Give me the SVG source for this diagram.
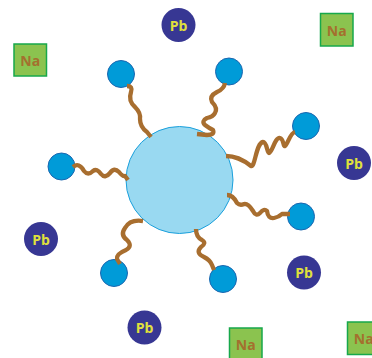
<svg xmlns="http://www.w3.org/2000/svg" width="372" height="358" viewBox="0 0 372 358">
<style>
.na rect{fill:#8bc34f;stroke:#17a84b;stroke-width:1.5}
.na text{fill:#a4702e}
.pb circle{fill:#373793}
.pb text{fill:#e0e03c}
text{font-family:"Open Sans","Liberation Sans",sans-serif;font-weight:bold;font-size:14px;text-anchor:middle;dominant-baseline:central}
.head{fill:#009bd8;stroke:#1b66b0;stroke-width:1}
#connectors path{fill:none;stroke:#a86e2f;stroke-width:4.3;stroke-linecap:butt;stroke-linejoin:round}
</style>
<rect width="372" height="358" fill="#ffffff"/>
<g id="core"><circle cx="179.5" cy="180" r="53.5" fill="#99d9f1" stroke="#1ba0dc" stroke-width="1"/></g>
<g id="head1"><circle class="head" cx="121" cy="74" r="13.5"/></g>
<g id="head2"><circle class="head" cx="229" cy="71.5" r="13.5"/></g>
<g id="head3"><circle class="head" cx="306" cy="126" r="13.5"/></g>
<g id="head4"><circle class="head" cx="61.5" cy="166.5" r="13.5"/></g>
<g id="head5"><circle class="head" cx="301" cy="216.5" r="13.5"/></g>
<g id="head6"><circle class="head" cx="114" cy="273" r="13.5"/></g>
<g id="head7"><circle class="head" cx="223" cy="279" r="13.5"/></g>
<g id="connectors">
<path d="M127,86 Q133,86 131,92 Q128,101 135,107 Q141,113 140,119 Q140,127 147,132 L151,137"/>
<path d="M225,83 Q224,89 217,92 Q209,96 212,102 Q218,108 215,113 Q213,117 207,118 Q201,121 205,125 Q209,128 213,130 Q215,135 207,135 L197,134"/>
<path d="M226,156 C238,156 246,162 251,166 C255,168 256,143 263,142 C267,142 267,153 269,153 C272,153 275,137 280,138 C284,139 283,147 285,146 C288,144 290,133 295,132"/>
<path d="M73,167 Q79,162 84,171 Q88,176 93,171 Q97,168 101,174 Q105,179 110,173 Q114,167 119,172 Q123,177 125,176 L128,180"/>
<path d="M227,195 Q233,195 237,203 Q240,206 244,204 Q248,203 253,211 Q256,217 260,213 Q264,208 267,211 Q268,219 274,218 Q279,217 282,214 L290,214"/>
<path d="M143,221 Q130,219 125,228 Q120,235 127,240 Q133,246 126,250 Q116,254 117,259 L120,264"/>
<path d="M196,229 Q196,237 202,240 Q207,243 201,247 Q195,253 204,257 Q210,260 212,265 L214,270"/>
</g>
<g id="pb1" class="pb"><circle cx="178.5" cy="25" r="17"/><text x="178.5" y="25">Pb</text></g>
<g id="pb2" class="pb"><circle cx="354" cy="163" r="17"/><text x="354" y="163">Pb</text></g>
<g id="pb3" class="pb"><circle cx="41" cy="239" r="17"/><text x="41" y="239">Pb</text></g>
<g id="pb4" class="pb"><circle cx="304" cy="272.5" r="17"/><text x="304" y="272.5">Pb</text></g>
<g id="pb5" class="pb"><circle cx="144.5" cy="327.5" r="17"/><text x="144.5" y="327.5">Pb</text></g>
<g id="na1" class="na"><rect x="14" y="44" width="32.5" height="32"/><text x="30.2" y="60">Na</text></g>
<g id="na2" class="na"><rect x="320.5" y="13.5" width="32.5" height="32.5"/><text x="336.7" y="30">Na</text></g>
<g id="na3" class="na"><rect x="229.5" y="328" width="32.5" height="32.5"/><text x="245.7" y="344">Na</text></g>
<g id="na4" class="na"><rect x="347.5" y="322" width="32.5" height="32.5"/><text x="363.7" y="338">Na</text></g>
</svg>
